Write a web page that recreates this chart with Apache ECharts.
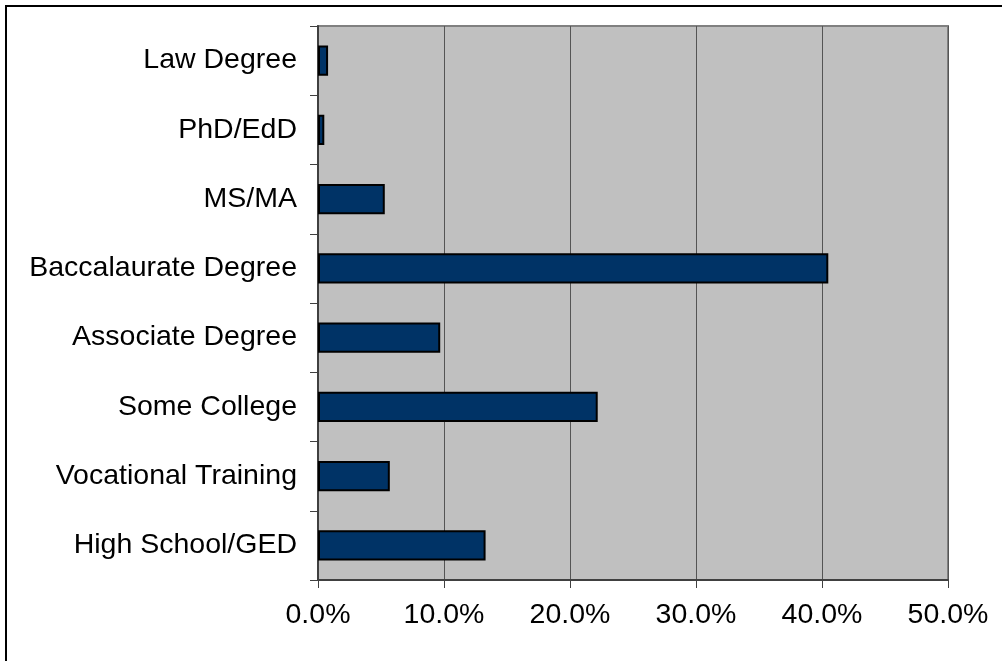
<!DOCTYPE html>
<html>
<head>
<meta charset="utf-8">
<script src="https://cdn.jsdelivr.net/npm/echarts@6/dist/echarts.min.js"></script>
<style>
  html, body { margin: 0; padding: 0; background: #fff; }
  #chart { width: 1002px; height: 661px; }
</style>
</head>
<body>
<div id="chart"></div>
<script>
// categories bottom -> top (category axis draws first item at the bottom)
const categories = [
  "High School/GED",
  "Vocational Training",
  "Some College",
  "Associate Degree",
  "Baccalaurate Degree",
  "MS/MA",
  "PhD/EdD",
  "Law Degree"
];
// percent of respondents
const values = [13.3, 5.7, 22.2, 9.7, 40.5, 5.3, 0.5, 0.8];
const xTicks = [0, 10, 20, 30, 40, 50];

var myChart = echarts.init(document.getElementById("chart"));
myChart.setOption({
  animation: false,
  textStyle: { fontFamily: "Liberation Sans, Arial, sans-serif" },
  graphic: [
    {
      // outer frame (only left/top visible in picture)
      type: "rect",
      shape: { x: 6, y: 6, width: 1200, height: 1200 },
      style: { fill: "none", stroke: "#000", lineWidth: 2 },
      z: 10
    }
  ],
  grid: {
    left: 318,
    right: 54,
    top: 26,
    bottom: 81,
    show: true,
    backgroundColor: "#c0c0c0",
    borderColor: "#808080",
    borderWidth: 2
  },
  xAxis: {
    type: "value",
    min: xTicks[0],
    max: xTicks[xTicks.length - 1],
    interval: 10,
    axisLine: { show: true, lineStyle: { color: "#404040", width: 2 } },
    axisTick: { show: true, length: 8, lineStyle: { color: "#404040", width: 1 } },
    splitLine: { show: true, lineStyle: { color: "#555", width: 1 } },
    axisLabel: {
      color: "#000",
      fontSize: 28.5,
      margin: 21,
      formatter: (v) => v.toFixed(1) + "%"
    }
  },
  yAxis: {
    type: "category",
    data: categories,
    axisLine: { show: true, lineStyle: { color: "#404040", width: 2 } },
    axisTick: { show: true, length: 8, lineStyle: { color: "#404040", width: 1 } },
    axisLabel: { color: "#000", fontSize: 28.5, margin: 21 }
  },
  series: [
    {
      type: "bar",
      data: values,
      barCategoryGap: "56%",
      itemStyle: { color: "#003366", borderColor: "#000", borderWidth: 2 }
    }
  ]
});
</script>
</body>
</html>
